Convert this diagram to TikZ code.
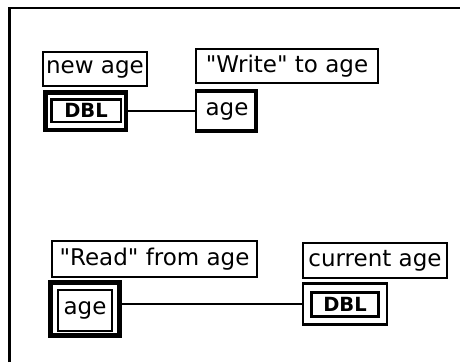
\documentclass[tikz,border=0pt]{standalone}
\usepackage{fontspec}
\setmainfont[Ligatures=TeXOff]{DejaVu Sans}
\begin{document}
\begin{tikzpicture}[x=1pt,y=-1pt,
  lbl/.style={draw,line width=1.8pt,inner sep=0pt,font=\fontsize{23}{23}\selectfont},
  dbltxt/.style={inner sep=0pt,font=\bfseries\fontsize{19.5}{19.5}\selectfont},
  wire/.style={line width=1.8pt}]
\useasboundingbox (0,0) rectangle (460,362);
% outer frame
\draw[line width=2.8pt] (9.5,362) -- (9.5,8) -- (460,8);
% --- top: write ---
\node[lbl,minimum width=104pt,minimum height=34pt] (newage) at (95,69) {new age};
\node[draw,line width=4.5pt,minimum width=80.5pt,minimum height=37.5pt,inner sep=0pt] (dblc) at (85.5,111) {};
\node[draw,line width=2.5pt,minimum width=69.5pt,minimum height=22.5pt,dbltxt] (dblcin) at (86,110.5) {DBL};
\node[lbl,minimum width=182pt,minimum height=34pt] (writelbl) at (287,66) {"Write" to age};
\node[minimum width=62pt,minimum height=44pt,inner sep=0pt,font=\fontsize{23}{23}\selectfont] (agew) at (227,111) {age};
\draw[line width=1.8pt] (agew.south west) -- (agew.north west);
\draw[line width=4pt] ([yshift=-2pt]agew.north west) -- ([xshift=-2pt,yshift=-2pt]agew.north east)
  -- ([xshift=-2pt,yshift=2pt]agew.south east) -- ([yshift=2pt]agew.south west);
\draw[wire] (agew.west) -- (agew.west -| dblc.east);
% --- bottom: read ---
\node[lbl,minimum width=205pt,minimum height=36pt] (readlbl) at (154.5,259) {"Read" from age};
\node[draw,line width=5pt,minimum width=69pt,minimum height=53pt,inner sep=0pt] (ager) at (85,309) {};
\node[draw,line width=2.2pt,minimum width=54pt,minimum height=41pt,inner sep=0pt,font=\fontsize{23}{23}\selectfont] (agerin) at (85,310.5) {age};
\node[lbl,minimum width=144pt,minimum height=35pt] (curlbl) at (375,260.5) {current age};
\node[draw,line width=2.2pt,minimum width=84pt,minimum height=41pt,inner sep=0pt] (dbli) at (345,304) {};
\node[draw,line width=2.8pt,minimum width=67.5pt,minimum height=23.5pt,dbltxt] (dbliin) at (345,304.5) {DBL};
\draw[wire] (dbli.west) -- (dbli.west -| ager.east);
\end{tikzpicture}
\end{document}
